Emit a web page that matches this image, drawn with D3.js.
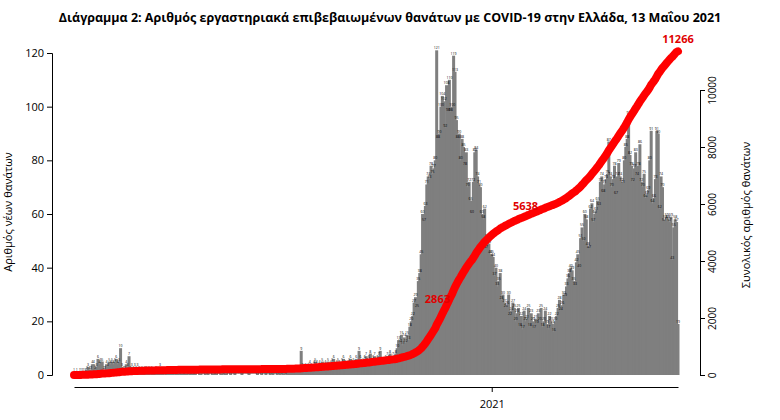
<!DOCTYPE html>
<html><head><meta charset="utf-8">
<script src="https://cdn.jsdelivr.net/npm/d3@7"></script>
<style>body{margin:0;background:#fff}text{font-family:"Open Sans",sans-serif}</style>
</head><body><div id="chart"></div>
<script>
var startDate = new Date(2020, 2, 11);
// daily new deaths, by month
var mar20 = [1,0,1,0,1,1,1,1,1,2,3,2,2,4,4,2,3,6,4,5,5];
var apr20 = [2,2,4,3,5,4,5,4,5,6,4,5,10,3,2,2,4,3,7,2,3,2,3,2,3,2,1,2,1,2];
var may20 = [2,1,2,0,2,1,1,2,1,1,3,1,1,0,1,2,1,0,1,2,0,1,1,1,0,2,1,0,1,1,0];
var jun20 = [1,0,1,0,1,0,0,1,1,0,0,1,0,1,0,0,1,2,0,1,0,0,1,1,0,1,2,0,0,1];
var jul20 = [0,0,1,0,0,0,0,1,0,0,0,0,1,0,0,0,0,0,1,0,0,1,0,0,1,0,0,1,0,1,0];
var aug20 = [0,1,0,1,0,1,1,0,2,1,1,2,1,1,2,1,2,1,9,3,2,3,2,3,4,3,2,4,5,4,3];
var sep20 = [4,3,5,3,4,2,5,3,4,5,6,3,4,5,4,3,5,6,4,3,4,5,6,4,5,4,6,3,9,6];
var oct20 = [4,5,6,7,5,6,8,5,6,7,5,6,7,9,5,4,5,6,7,6,8,5,7,6,8,10,13,12,15,11,14];
var nov20 = [12,15,13,18,20,22,27,29,25,35,38,45,60,57,63,71,74,73,78,75,77,80,121,88,90,100,104,102,92,108];
var dec20 = [98,110,98,100,119,113,95,88,90,80,88,85,78,83,70,72,65,60,72,83,84,74,71,70,60,58,62,47,51,49,45];
var jan21 = [45,44,37,40,33,35,38,28,30,27,25,26,30,22,24,27,25,20,23,25,18,22,17,24,20,21,25,18,23,20,17];
var feb21 = [21,19,23,20,25,18,20,24,19,17,22,20,19,16,20,22,25,28,24,26,30,29,33,36,38,40,39,35];
var mar21 = [33,42,45,40,51,55,50,60,58,48,47,62,64,57,60,61,65,63,72,74,68,71,73,75,87,74,70,73,78,67,74];
var apr21 = [79,74,72,71,80,85,88,97,82,78,72,77,83,74,78,86,72,70,75,66,67,69,80,91,64,66,73,91,90,62];
var may21 = [74,70,57,58,59,58,57,59,43,55,58,57,19];
var leftTicks = [0,20,40,60,80,100,120];
var rightTicks = [0,2000,4000,6000,8000,10000];
var noteDays = [266, 320, 428];
var noteTexts = ["2863", "5638", "11266"];

var daily = [].concat(mar20,apr20,may20,jun20,jul20,aug20,sep20,oct20,nov20,dec20,jan21,feb21,mar21,apr21,may21);
var cum = 0;
var data = daily.map(function(v, i){
  cum += v;
  return {date: d3.timeDay.offset(startDate, i), v: v, c: cum};
});

var width = 780, height = 420;
var svg = d3.select("#chart").append("svg").attr("width", width).attr("height", height);

var x = d3.scaleTime()
  .domain([startDate, data[data.length-1].date])
  .range([74, 678]);
var y = d3.scaleLinear().domain([0,120]).range([375,53]);
var y2 = d3.scaleLinear().domain([0,10000]).range([375,90]);

svg.append("text").attr("x", 390).attr("y", 22).attr("text-anchor","middle")
  .style("font-size","12.5px").style("font-weight","bold")
  .text("Διάγραμμα 2: Αριθμός εργαστηριακά επιβεβαιωμένων θανάτων με COVID-19 στην Ελλάδα, 13 Μαΐου 2021");

svg.selectAll("rect.bar").data(data).enter().append("rect")
  .attr("class","bar")
  .attr("x", d => x(d.date) - 1.5)
  .attr("width", 3)
  .attr("y", d => y(d.v))
  .attr("height", d => 375 - y(d.v))
  .attr("fill", "#7f7f7f");

svg.selectAll("text.lab").data(data).enter().append("text")
  .attr("class","lab")
  .attr("x", d => x(d.date))
  .attr("y", d => y(d.v) - 1)
  .attr("text-anchor","middle")
  .style("font-size","3.5px")
  .text(d => d.v);

svg.append("path").datum(data)
  .attr("fill","none").attr("stroke","#ff0000").attr("stroke-width",8)
  .attr("stroke-linecap","round").attr("stroke-linejoin","round")
  .attr("d", d3.line().x(d => x(d.date)).y(d => y2(d.c)));

// label offsets: first on the line, others just above it
var noteDy = [4, -6, -8];
var noteDx = [-12, 0, 0];
noteDays.forEach(function(day, k){
  var d = data[day];
  svg.append("text").attr("x", x(d.date) + noteDx[k]).attr("y", y2(d.c) + noteDy[k])
    .attr("text-anchor","middle").attr("fill","#e00000")
    .style("font-size","11px").style("font-weight","bold").text(noteTexts[k]);
});

var yAxis = svg.append("g").attr("transform","translate(52,0)")
  .call(d3.axisLeft(y).tickValues(leftTicks).tickSize(5).tickPadding(3));
yAxis.selectAll("text").style("font-size","11px");

var yAxis2 = svg.append("g").attr("transform","translate(700,0)")
  .call(d3.axisRight(y2).tickValues(rightTicks).tickFormat(d3.format("d")).tickSize(5));
yAxis2.selectAll(".tick text").style("font-size","10px")
  .attr("text-anchor","middle").attr("x", 0).attr("dy", null)
  .attr("transform", "translate(16,0) rotate(-90)").attr("y", 0);

var xAxis = svg.append("g").attr("transform","translate(0,387)")
  .call(d3.axisBottom(x).tickValues([new Date(2021,0,1)]).tickFormat(d3.timeFormat("%Y")).tickSize(5).tickSizeOuter(0));
xAxis.selectAll("text").style("font-size","11px").attr("dy","1.2em");

svg.append("text").attr("transform","translate(12,212) rotate(-90)")
  .attr("text-anchor","middle").style("font-size","11px").text("Αριθμός νέων θανάτων");
svg.append("text").attr("transform","translate(750,215) rotate(-90)")
  .attr("text-anchor","middle").style("font-size","11px").text("Συνολικός αριθμός θανάτων");
</script></body></html>
